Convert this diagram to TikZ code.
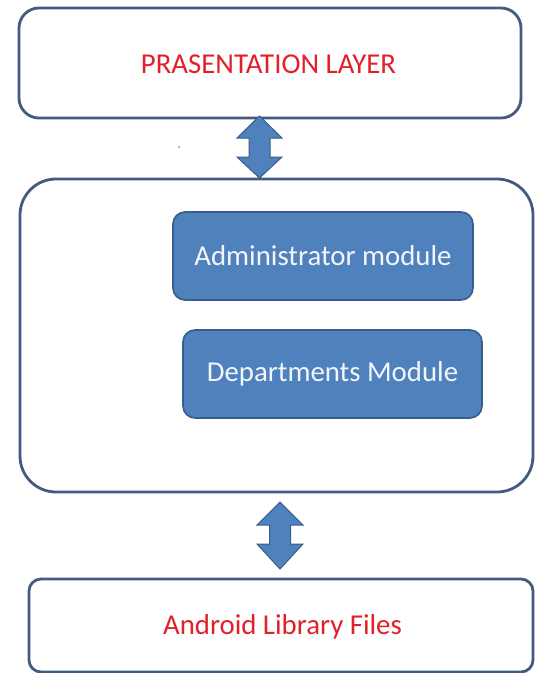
\documentclass[tikz,border=0pt]{standalone}
\usepackage{fontspec}
\setmainfont{Carlito}
\usetikzlibrary{calc}
\definecolor{boxline}{HTML}{435B7E}
\definecolor{modfill}{HTML}{4F81BD}
\definecolor{modline}{HTML}{385D8A}
\definecolor{redtext}{HTML}{E3202A}
\definecolor{modtext}{HTML}{F2F6FC}
\tikzset{
  layerbox/.style={draw=boxline, line width=2.8pt, fill=white, inner sep=0pt},
  modbox/.style={draw=modline, line width=1.6pt, fill=modfill, rounded corners=12pt, inner sep=0pt,
    minimum width=300pt, minimum height=88pt, text=modtext, font=\fontsize{28.8}{34}\selectfont},
  redlabel/.style={text=redtext, font=\fontsize{28.8}{34}\selectfont},
  dblarrow/.style={fill=modfill, draw=modline, line width=1pt, line join=miter}
}
\begin{document}
\begin{tikzpicture}[x=1pt, y=-1pt]
\useasboundingbox (0,0) rectangle (535,673);
\fill[white] (0,0) rectangle (535,673);
% layers
\node[layerbox, rounded corners=20pt, minimum width=502pt, minimum height=110pt] (top) at (270,63) {};
\node[redlabel] (toplabel) at (268.5,64) {PRASENTATION LAYER};
\node[layerbox, rounded corners=36pt, minimum width=513pt, minimum height=313pt] (mid) at (276.5,335.5) {};
\node[layerbox, rounded corners=12pt, minimum width=504pt, minimum height=93pt] (bot) at (281,625.5) {};
\node[redlabel] (botlabel) at (282.5,627) {Android Library Files};
% modules
\node[modbox] (admin) at (323,256) {Administrator module};
\node[modbox, minimum width=299pt] (dept) at (332.5,374) {Departments Module};
% stray dot
\fill[black!60] (179,147) circle (0.9pt);
% arrow 1
\coordinate (a1t) at (259.5,116);
\coordinate (a1b) at (259.5,178);
\draw[dblarrow] (a1t) -- ($(a1t)+(22.5,22)$) -- ($(a1t)+(10.5,22)$) -- ($(a1b)+(10.5,-21)$)
  -- ($(a1b)+(22.5,-21)$) -- (a1b) -- ($(a1b)+(-22.5,-21)$) -- ($(a1b)+(-10.5,-21)$)
  -- ($(a1t)+(-10.5,22)$) -- ($(a1t)+(-22.5,22)$) -- cycle;
% arrow 2
\coordinate (a2t) at (280,502);
\coordinate (a2b) at (280,569);
\draw[dblarrow] (a2t) -- ($(a2t)+(23,23)$) -- ($(a2t)+(10.5,23)$) -- ($(a2b)+(10.5,-25)$)
  -- ($(a2b)+(23,-25)$) -- (a2b) -- ($(a2b)+(-23,-25)$) -- ($(a2b)+(-10.5,-25)$)
  -- ($(a2t)+(-10.5,23)$) -- ($(a2t)+(-23,23)$) -- cycle;
\end{tikzpicture}
\end{document}
